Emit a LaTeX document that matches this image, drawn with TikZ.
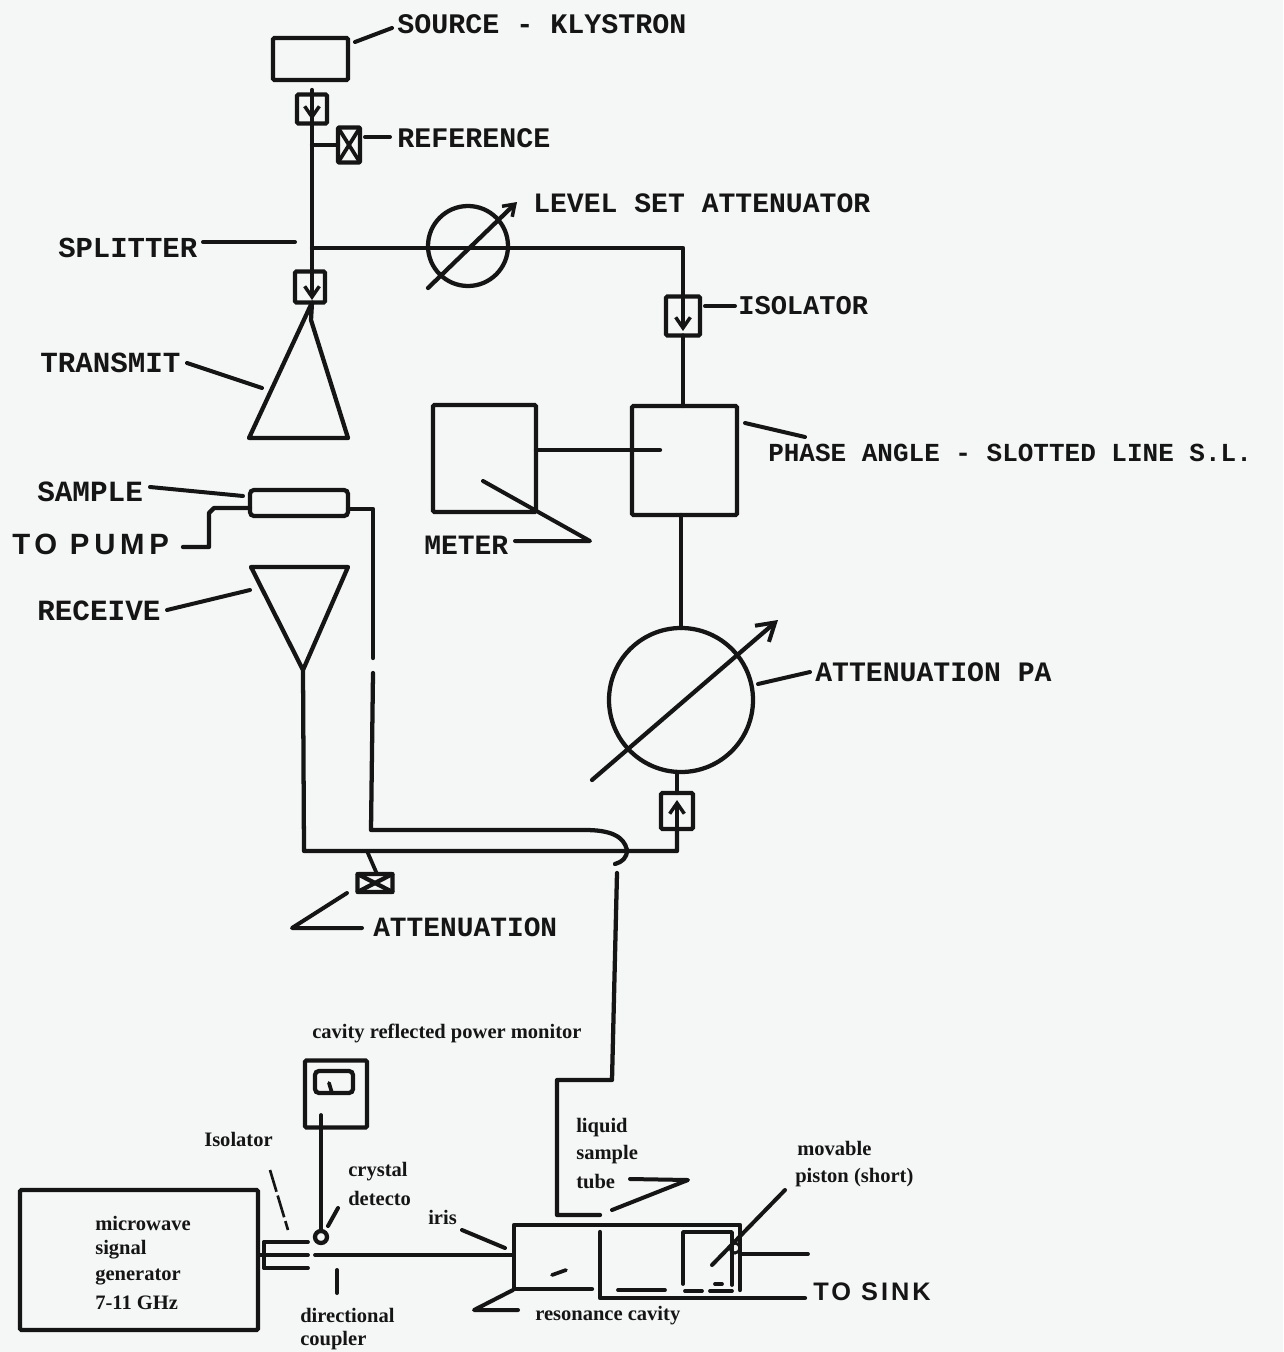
\documentclass[tikz,border=0pt]{standalone}
\usepackage{fontspec}
\setmainfont{Liberation Serif}
\newfontfamily\typed{Liberation Mono}[BoldFont={Liberation Mono Bold}]
\newfontfamily\hand{Liberation Sans}[LetterSpace=12]
\newfontfamily\handwide{Liberation Sans}[LetterSpace=16]
\usetikzlibrary{arrows.meta}
\definecolor{paper}{HTML}{F5F7F6}
\definecolor{ink}{HTML}{151515}
\tikzset{
  wire/.style={draw=ink,line width=3.2pt,line cap=round,line join=round},
  thin wire/.style={draw=ink,line width=2.8pt,line cap=round,line join=round},
  lead/.style={draw=ink,line width=3pt,line cap=round,line join=round},
  dlead/.style={draw=ink,line width=2pt,dash pattern=on 17pt off 3pt},
  box/.style n args={2}{draw=ink,line width=3.2pt,rectangle,rounded corners=1pt,minimum width=#1*0.75pt,minimum height=#2*0.75pt,inner sep=0pt,outer sep=0pt},
  ring/.style={draw=ink,line width=3.2pt,circle,minimum size=#1*0.75pt,inner sep=0pt,outer sep=0pt},
  caps/.style={text=ink,anchor=west,inner sep=0pt,font=\typed\bfseries\fontsize{#1}{#1}\selectfont},
  handw/.style={text=ink,anchor=west,inner sep=0pt,font=\hand\bfseries\fontsize{19}{20}\selectfont},
  handp/.style={text=ink,anchor=west,inner sep=0pt,font=\handwide\bfseries\fontsize{22}{22}\selectfont},
  small/.style={text=ink,anchor=west,inner sep=0pt,font=\bfseries\fontsize{15.4}{16}\selectfont},
  tip/.style={-{Straight Barb[length=8pt,width=11pt,line width=2.6pt]}},
  bigtip/.style={-{Straight Barb[length=13pt,width=16pt,line width=3pt]}},
}
\begin{document}
\begin{tikzpicture}[x=0.75pt,y=-0.75pt]
\useasboundingbox[fill=paper] (0,0) rectangle (1283,1352);

% --- main components
\node[box={75}{42}] (source) at (310.5,59) {};
\node[box={30}{29}] (isoA) at (312,109) {};
\node[box={22}{35}] (ref) at (349,145) {};
\node[box={30}{31}] (isoB) at (310,287) {};
\node[ring=80] (level) at (468,246) {};
\node[box={34}{39}] (isoC) at (683,316) {};
\node[box={105}{109}] (phase) at (684.5,460.5) {};
\node[box={103}{107}] (meter) at (484.5,458.5) {};
\node[ring=144] (pa) at (681,700) {};
\node[box={32}{36}] (isoD) at (677,811) {};
\node[box={98}{26},rounded corners=3pt] (sample) at (299,503) {};
\node[box={35}{18}] (att) at (375,883) {};

% --- named points of the upper network
\coordinate (feedTop) at (312,90);
\coordinate (tipA) at (312,120);
\coordinate (split) at (312,248);
\coordinate (tipB) at (312,300);
\coordinate (tipC) at (683,331);
\coordinate (tipD) at (677,800);
\coordinate (refTap) at (312,145);
\coordinate (corner) at (683,248);
\coordinate (txApex) at (311,320);
\coordinate (txL) at (249,438);
\coordinate (txR) at (348,438);
\coordinate (rxL) at (251,567);
\coordinate (rxR) at (348,567);
\coordinate (rxApex) at (303,670);
\coordinate (probe) at (660,450);
\coordinate (busL) at (304,851);
\coordinate (busR) at (677,851);
\coordinate (attTap) at (367,851);
\coordinate (attIn) at (377,874);
\coordinate (pumpA) at (214,508);
\coordinate (pumpB) at (209,513);
\coordinate (pumpC) at (209,547);
\coordinate (pumpD) at (183,547);
\coordinate (sampR) at (373,509);
\coordinate (s1) at (373,658);
\coordinate (s2) at (373,673);
\coordinate (s3) at (371,830);
\coordinate (s4) at (585,830);
\coordinate (s4b) at (627,850);
\coordinate (s5) at (615,864);
\coordinate (t1) at (617,873);
\coordinate (t2) at (612,1080);
\coordinate (t3) at (557,1080);
\coordinate (t4) at (557,1215);
\coordinate (t5) at (600,1215);

% --- upper wiring
\draw[wire] (feedTop) -- (split);
\draw[wire,tip] (isoA.north -| feedTop) -- (tipA);
\draw[wire] (refTap) -- (ref.west);
\draw[thin wire] (ref.north west) -- (ref.center) -- (ref.south east) (ref.north east) -- (ref.center) -- (ref.south west);
\draw[wire] (split) -- (isoB.north -| split);
\draw[wire,tip] (isoB.north -| split) -- (tipB);
\draw[wire] (isoB.south -| split) -- (txApex) -- (txR) -- (txL) -- cycle;
\draw[wire] (split) -- (corner) -- (isoC.north);
\draw[wire,tip] (isoC.north) -- (tipC);
\draw[wire] (isoC.south) -- (phase.north -| isoC.south);
\draw[wire] (meter.east |- probe) -- (probe);
\draw[wire] (phase.south -| pa.north) -- (pa.north);
\draw[wire] (pa.south -| isoD.north) -- (isoD.north);
\draw[wire,tip] (isoD.south) -- (tipD);
\draw[wire] (isoD.south) -- (busR) -- (busL) -- (rxApex) -- (rxL) -- (rxR) -- (rxApex);
\draw[thin wire] (attTap) -- (attIn);
\draw[wire] (att.north west) -- (att.south east) (att.south west) -- (att.north east);
\draw[wire] (sample.west |- pumpA) -- (pumpA) -- (pumpB) -- (pumpC) -- (pumpD);
\draw[wire] (sample.east |- sampR) -- (sampR) -- (s1);
\draw[wire] (s2) -- (s3) -- (s4) .. controls (610,830) and (624,836) .. (s4b) .. controls (627,858) and (622,862) .. (s5);
\draw[wire] (t1) -- (t2) -- (t3) -- (t4) -- (t5);

% --- variable attenuator arrows
\coordinate (levA) at (428,288);
\coordinate (levB) at (517,202);
\coordinate (paA) at (592,780);
\coordinate (paB) at (778,620);
\draw[wire,tip] (levA) -- (levB);
\draw[wire,bigtip] (paA) -- (paB);

% --- upper labels
\node[caps=21.25] (lSource) at (397,24) {SOURCE - KLYSTRON};
\node[caps=21.25] (lRef) at (397,138) {REFERENCE};
\node[caps=21.06] (lLevel) at (533,203) {LEVEL SET ATTENUATOR};
\node[caps=21.7] (lSplit) at (58,248) {SPLITTER};
\node[caps=20.3] (lIso) at (738,306) {ISOLATOR};
\node[caps=21.9] (lTrans) at (40,363) {TRANSMIT};
\node[caps=22] (lSample) at (37,492) {SAMPLE};
\node[handp] (lPump) at (12,544) {TO PUMP};
\node[caps=22] (lRecv) at (37,611) {RECEIVE};
\node[caps=21] (lMeter) at (424,545) {METER};
\node[caps=19.5] (lPhase) at (768,453) {PHASE ANGLE - SLOTTED LINE S.L.};
\node[caps=21.1] (lAttPA) at (815,672) {ATTENUATION PA};
\node[caps=20.9] (lAtt) at (373,927) {ATTENUATION};

% --- upper leaders
\coordinate (a1) at (392,28); \coordinate (a2) at (355,42);
\coordinate (b1) at (390,137); \coordinate (b2) at (365,137);
\coordinate (c1) at (203,242); \coordinate (c2) at (295,242);
\coordinate (d1) at (735,306); \coordinate (d2) at (705,306);
\coordinate (e1) at (187,363); \coordinate (e2) at (262,388);
\coordinate (f1) at (150,487); \coordinate (f2) at (243,496);
\coordinate (g1) at (167,610); \coordinate (g2) at (250,590);
\coordinate (h1) at (515,541); \coordinate (h2) at (590,541); \coordinate (h3) at (483,481);
\coordinate (i1) at (745,423); \coordinate (i2) at (805,437);
\coordinate (j1) at (810,672); \coordinate (j2) at (758,684);
\coordinate (k1) at (362,928); \coordinate (k2) at (292,928); \coordinate (k3) at (347,893);
\draw[lead] (a1) -- (a2);
\draw[lead] (b1) -- (b2);
\draw[lead] (c1) -- (c2);
\draw[lead] (d1) -- (d2);
\draw[lead] (e1) -- (e2);
\draw[lead] (f1) -- (f2);
\draw[lead] (g1) -- (g2);
\draw[lead] (h1) -- (h2) -- (h3);
\draw[lead] (i1) -- (i2);
\draw[lead] (j1) -- (j2);
\draw[lead] (k1) -- (k2) -- (k3);

% --- lower apparatus
\node[box={62}{67}] (monitor) at (336,1094) {};
\node[box={38}{22},rounded corners=3pt] (dial) at (334,1082) {};
\node[box={238}{140}] (gen) at (139,1260) {};
\node[ring=12] (crystal) at (321,1237) {};
\coordinate (dialA) at (329,1083);
\coordinate (dialB) at (332,1093);
\coordinate (monProbe) at (321,1115);
\coordinate (lineA) at (315,1255);
\coordinate (isoTop) at (308,1242);
\coordinate (isoMid) at (308,1255);
\coordinate (isoBot) at (308,1268);
\coordinate (brk) at (264,1242);
\coordinate (brl) at (264,1268);
\coordinate (brm) at (264,1255);
\coordinate (cavTL) at (514,1225);
\coordinate (cavTR) at (740,1225);
\coordinate (cavBR) at (740,1290);
\coordinate (cavBL) at (514,1289);
\coordinate (cavB1) at (592,1289);
\coordinate (cavMid) at (514,1255);
\coordinate (wallT) at (600,1232);
\coordinate (wallB) at (600,1298);
\coordinate (toSink) at (805,1298);
\coordinate (pistBL) at (683,1284);
\coordinate (pistTL) at (683,1232);
\coordinate (pistTR) at (732,1232);
\coordinate (pistBR) at (732,1285);
\node[ring=10,line width=2.2pt] (pistRing) at (735,1248) {};
\coordinate (rodA) at (740,1254);
\coordinate (rodB) at (808,1254);
\coordinate (gapA) at (618,1290);
\coordinate (gapB) at (665,1290);
\coordinate (gapC) at (685,1291);
\coordinate (gapD) at (702,1291);
\coordinate (gapE) at (710,1291);
\coordinate (gapF) at (732,1291);
\coordinate (blobA) at (715,1284);
\coordinate (blobB) at (722,1284);
\coordinate (markA) at (552,1275);
\coordinate (markB) at (566,1270);

\draw[thin wire] (dialA) -- (dialB);
\draw[thin wire] (monProbe) -- (crystal.north);
\draw[thin wire] (gen.east |- brm) -- (brm) (brk) -- (brl);
\draw[thin wire] (brk) -- (isoTop) (brm) -- (isoMid) (brl) -- (isoBot);
\draw[thin wire] (lineA) -- (cavMid);
\draw[wire] (cavBR) -- (cavTR) -- (cavTL) -- (cavBL) -- (cavB1);
\draw[wire] (wallT) -- (wallB) -- (toSink);
\draw[thin wire] (pistBL) -- (pistTL) -- (pistTR) -- (pistBR);
\draw[thin wire] (rodA) -- (rodB);
\draw[thin wire] (gapA) -- (gapB) (gapC) -- (gapD) (gapE) -- (gapF) (blobA) -- (blobB);
\draw[thin wire] (markA) -- (markB);

% --- lower labels
\node[small] (lMon) at (312,1033) {cavity reflected power monitor};
\node[small] (lIsoS) at (204,1139) {Isolator};
\node[small] (lCry) at (348,1172) {crystal};
\node[small] (lDet) at (348,1198) {detecto};
\node[small] (lIris) at (428,1217) {iris};
\node[small] (lG1) at (95,1223) {microwave};
\node[small] (lG2) at (95,1250) {signal};
\node[small] (lG3) at (95,1277) {generator};
\node[small] (lG4) at (95,1303) {7-11 GHz};
\node[small] (lD1) at (300,1315) {directional};
\node[small] (lD2) at (300,1341) {coupler};
\node[small] (lRes) at (535,1316) {resonance cavity};
\node[small] (lL1) at (576,1128) {liquid};
\node[small] (lL2) at (576,1155) {sample};
\node[small] (lL3) at (576,1181) {tube};
\node[small] (lM1) at (797,1148) {movable};
\node[small] (lM2) at (795,1178) {piston (short)};
\node[handw] (lSink) at (813,1292) {TO SINK};

% --- lower leaders
\coordinate (m1) at (270,1170); \coordinate (m2) at (288,1230);
\coordinate (n1) at (338,1208); \coordinate (n2) at (328,1226);
\coordinate (o1) at (462,1230); \coordinate (o2) at (505,1248);
\coordinate (p1) at (337,1270); \coordinate (p2) at (337,1293);
\coordinate (q1) at (513,1290); \coordinate (q2) at (474,1310); \coordinate (q3) at (518,1310);
\coordinate (r1) at (630,1179); \coordinate (r2) at (688,1180); \coordinate (r3) at (612,1210);
\coordinate (u1) at (785,1190); \coordinate (u2) at (712,1265);
\draw[dlead] (m1) -- (m2);
\draw[lead] (n1) -- (n2);
\draw[lead] (o1) -- (o2);
\draw[lead] (p1) -- (p2);
\draw[lead] (q1) -- (q2) -- (q3);
\draw[lead] (r1) -- (r2) -- (r3);
\draw[lead] (u1) -- (u2);
\end{tikzpicture}
\end{document}
